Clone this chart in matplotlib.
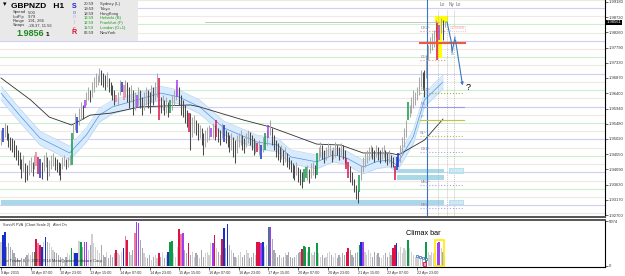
import numpy as np
import matplotlib
matplotlib.use('Agg')
import matplotlib.pyplot as plt
from matplotlib.patches import Rectangle

plt.rcParams['font.family'] = ['Liberation Sans', 'DejaVu Sans']

# ---- data (GBPNZD H1, one entry per hourly bar) ----
highs = [
    1.9529, 1.9535, 1.9550, 1.9544, 1.9520, 1.9508, 1.9504, 1.9498, 1.9483, 1.9468,
    1.9462, 1.9440, 1.9453, 1.9430, 1.9422, 1.9438, 1.9447, 1.9432, 1.9453, 1.9462,
    1.9447, 1.9440, 1.9432, 1.9453, 1.9462, 1.9447, 1.9438, 1.9453, 1.9459, 1.9447,
    1.9440, 1.9432, 1.9428, 1.9447, 1.9453, 1.9440, 1.9447, 1.9453, 1.9520, 1.9550,
    1.9580, 1.9568, 1.9596, 1.9614, 1.9605, 1.9620, 1.9644, 1.9660, 1.9650, 1.9675,
    1.9690, 1.9702, 1.9696, 1.9717, 1.9711, 1.9702, 1.9696, 1.9705, 1.9687, 1.9675,
    1.9666, 1.9650, 1.9635, 1.9644, 1.9681, 1.9675, 1.9666, 1.9681, 1.9675, 1.9660,
    1.9666, 1.9650, 1.9644, 1.9635, 1.9660, 1.9650, 1.9629, 1.9644, 1.9660, 1.9650,
    1.9644, 1.9666, 1.9660, 1.9675, 1.9702, 1.9687, 1.9629, 1.9635, 1.9620, 1.9629,
    1.9614, 1.9620, 1.9635, 1.9650, 1.9666, 1.9681, 1.9660, 1.9635, 1.9620, 1.9605,
    1.9590, 1.9580, 1.9580, 1.9568, 1.9574, 1.9559, 1.9550, 1.9544, 1.9535, 1.9520,
    1.9529, 1.9538, 1.9544, 1.9535, 1.9550, 1.9544, 1.9559, 1.9535, 1.9529, 1.9550,
    1.9544, 1.9529, 1.9523, 1.9514, 1.9520, 1.9508, 1.9498, 1.9514, 1.9520, 1.9529,
    1.9514, 1.9504, 1.9520, 1.9529, 1.9523, 1.9514, 1.9504, 1.9498, 1.9489, 1.9498,
    1.9483, 1.9508, 1.9520, 1.9529, 1.9544, 1.9559, 1.9535, 1.9514, 1.9498, 1.9489,
    1.9477, 1.9483, 1.9468, 1.9477, 1.9459, 1.9447, 1.9438, 1.9428, 1.9422, 1.9432,
    1.9416, 1.9410, 1.9401, 1.9410, 1.9416, 1.9422, 1.9410, 1.9428, 1.9432, 1.9422,
    1.9459, 1.9477, 1.9492, 1.9483, 1.9468, 1.9477, 1.9489, 1.9483, 1.9468, 1.9477,
    1.9492, 1.9483, 1.9477, 1.9489, 1.9483, 1.9468, 1.9445, 1.9432, 1.9420, 1.9401,
    1.9380, 1.9362, 1.9346, 1.9392, 1.9422, 1.9447, 1.9459, 1.9468, 1.9477, 1.9483,
    1.9477, 1.9468, 1.9483, 1.9477, 1.9468, 1.9477, 1.9483, 1.9468, 1.9459, 1.9468,
    1.9453, 1.9447, 1.9420, 1.9447, 1.9459, 1.9483, 1.9508, 1.9535, 1.9559, 1.9614,
    1.9605, 1.9629, 1.9650, 1.9644, 1.9660, 1.9690, 1.9711, 1.9705, 1.9711, 1.9757,
    1.9787, 1.9812, 1.9824, 1.9833, 1.9863, 1.9854, 1.9848, 1.9869, 1.9863, 1.9860,
]
lows = [
    1.9483, 1.9492, 1.9508, 1.9498, 1.9477, 1.9468, 1.9462, 1.9447, 1.9438, 1.9422,
    1.9410, 1.9383, 1.9400, 1.9371, 1.9377, 1.9392, 1.9401, 1.9390, 1.9410, 1.9420,
    1.9395, 1.9383, 1.9380, 1.9405, 1.9416, 1.9377, 1.9390, 1.9410, 1.9420, 1.9407,
    1.9401, 1.9392, 1.9377, 1.9410, 1.9420, 1.9410, 1.9416, 1.9422, 1.9422, 1.9500,
    1.9530, 1.9520, 1.9544, 1.9559, 1.9562, 1.9596, 1.9605, 1.9620, 1.9614, 1.9629,
    1.9644, 1.9660, 1.9666, 1.9675, 1.9666, 1.9660, 1.9650, 1.9660, 1.9644, 1.9635,
    1.9620, 1.9605, 1.9614, 1.9605, 1.9635, 1.9644, 1.9620, 1.9629, 1.9614, 1.9596,
    1.9614, 1.9574, 1.9590, 1.9596, 1.9605, 1.9596, 1.9574, 1.9590, 1.9605, 1.9596,
    1.9580, 1.9614, 1.9605, 1.9620, 1.9629, 1.9559, 1.9580, 1.9590, 1.9574, 1.9580,
    1.9568, 1.9580, 1.9590, 1.9605, 1.9620, 1.9629, 1.9605, 1.9574, 1.9568, 1.9550,
    1.9538, 1.9523, 1.9468, 1.9508, 1.9520, 1.9514, 1.9498, 1.9504, 1.9483, 1.9453,
    1.9477, 1.9492, 1.9498, 1.9508, 1.9504, 1.9498, 1.9508, 1.9492, 1.9483, 1.9504,
    1.9492, 1.9489, 1.9477, 1.9462, 1.9468, 1.9447, 1.9428, 1.9459, 1.9477, 1.9483,
    1.9468, 1.9459, 1.9477, 1.9489, 1.9483, 1.9468, 1.9453, 1.9459, 1.9462, 1.9453,
    1.9440, 1.9462, 1.9468, 1.9483, 1.9504, 1.9514, 1.9483, 1.9468, 1.9447, 1.9438,
    1.9432, 1.9440, 1.9422, 1.9432, 1.9416, 1.9410, 1.9401, 1.9383, 1.9377, 1.9392,
    1.9371, 1.9362, 1.9352, 1.9371, 1.9383, 1.9377, 1.9368, 1.9383, 1.9392, 1.9383,
    1.9392, 1.9438, 1.9447, 1.9440, 1.9428, 1.9438, 1.9447, 1.9453, 1.9432, 1.9440,
    1.9447, 1.9453, 1.9438, 1.9447, 1.9440, 1.9428, 1.9410, 1.9383, 1.9371, 1.9362,
    1.9340, 1.9320, 1.9307, 1.9340, 1.9377, 1.9401, 1.9416, 1.9428, 1.9438, 1.9447,
    1.9440, 1.9432, 1.9447, 1.9438, 1.9428, 1.9440, 1.9447, 1.9432, 1.9422, 1.9428,
    1.9416, 1.9416, 1.9377, 1.9407, 1.9416, 1.9432, 1.9453, 1.9477, 1.9508, 1.9559,
    1.9568, 1.9580, 1.9596, 1.9605, 1.9620, 1.9635, 1.9660, 1.9650, 1.9629, 1.9687,
    1.9742, 1.9763, 1.9772, 1.9781, 1.9812, 1.9742, 1.9802, 1.9824, 1.9802, 1.9842,
]
volumes = [
    3200, 4100, 4560, 2500, 3000, 2570, 2130, 1680, 1240, 1000,
    800, 1100, 900, 1240, 1460, 1680, 1500, 1900, 1900, 3540,
    3000, 2790, 2570, 3230, 3800, 3230, 3000, 2570, 2130, 1900,
    1680, 1460, 1240, 1000, 800, 1240, 1680, 1460, 2350, 1900,
    1680, 1700, 3300, 3230, 2500, 3140, 3140, 2130, 2800, 4250,
    3000, 2570, 2130, 1680, 2800, 1460, 1240, 1900, 1000, 1460,
    1240, 1680, 2130, 1680, 1460, 1900, 2350, 3990, 3450, 1900,
    1460, 2130, 4340, 5900, 5760, 3450, 2350, 1680, 1240, 1000,
    1460, 800, 1240, 1460, 1000, 1680, 1240, 1900, 1000, 1460,
    1900, 3230, 3300, 1680, 1240, 2570, 4870, 4250, 4420, 2130,
    1680, 3100, 1460, 1900, 1240, 1680, 1460, 1000, 2130, 1240,
    1680, 1900, 1460, 3000, 3000, 4120, 2350, 1900, 1460, 3540,
    5000, 2350, 5540, 2800, 2130, 1680, 1240, 1000, 1460, 1900,
    1240, 1460, 2130, 1680, 1000, 1240, 1680, 1460, 3230, 3230,
    3000, 3230, 2570, 2800, 5230, 5230, 3540, 2130, 1680, 1240,
    1460, 1000, 1240, 1680, 1460, 1900, 1240, 1000, 1240, 1460,
    1680, 1900, 2200, 2650, 2570, 1900, 2480, 1680, 1460, 1900,
    3000, 1680, 1240, 1460, 1000, 1240, 1680, 1900, 1460, 1240,
    1680, 1000, 1460, 1240, 1680, 1460, 1900, 2350, 2130, 1460,
    1240, 1680, 1900, 2790, 3230, 3140, 1900, 1460, 2130, 1680,
    1240, 1900, 1460, 1680, 1240, 1000, 1460, 1680, 1240, 1900,
    1460, 2350, 2800, 3000, 1900, 2570, 1680, 2350, 2130, 3450,
    2350, 1900, 1460, 1240, 1000, 1240, 1000, 800, 500, 3230,
    1900, 1460, 1900, 1680, 2130, 3000, 3200, 2350, 1900, 1000,
]
# VSA bar types on the volume panel (b=blue, g=green, r=red, k=pink, p=purple)
vol_types = {1: 'b', 2: 'b', 18: 'g', 19: 'r', 20: 'k', 21: 'r', 22: 'b', 24: 'b',
             38: 'g', 40: 'b', 41: 'b', 43: 'g', 45: 'p', 46: 'p', 62: 'r', 66: 'b',
             67: 'k', 68: 'r', 72: 'k', 73: 'p', 74: 'p', 85: 'r', 90: 'b', 91: 'g',
             92: 'g', 96: 'r', 97: 'k', 98: 'p', 101: 'r', 114: 'p', 115: 'r', 119: 'r',
             120: 'b', 122: 'b', 138: 'r', 139: 'r', 140: 'p', 141: 'b', 144: 'g',
             145: 'p', 162: 'r', 163: 'g', 164: 'g', 166: 'g', 170: 'g', 186: 'r',
             187: 'r', 193: 'g', 194: 'b', 195: 'p', 211: 'r', 212: 'r', 213: 'b',
             219: 'g', 229: 'g', 235: 'p', 236: 'p'}
# coloured bars on the price chart
price_types = {1: 'b', 19: 'k', 20: 'r', 21: 'b', 38: 'g', 41: 'b', 45: 'p', 62: 'k',
               65: 'b', 66: 'k', 73: 'p', 85: 'r', 91: 'g', 95: 'p', 101: 'r', 113: 'p',
               116: 'r', 120: 'b', 138: 'r', 140: 'b', 142: 'g', 144: 'p', 163: 'g',
               164: 'g', 170: 'g', 186: 'r', 187: 'r', 193: 'g', 212: 'r', 213: 'b',
               214: 'b', 219: 'g', 235: 'r', 236: 'p'}

# moving average (dark line) and blue channel, read at a few bars
ma_bars = [0, 16, 26, 38, 48, 59, 75, 102, 107, 130, 145, 170, 183, 195, 209, 214, 228, 238]
ma_vals = [1.9687, 1.9620, 1.9568, 1.9544, 1.9574, 1.9580, 1.9599, 1.9605, 1.9599,
           1.9560, 1.9538, 1.9486, 1.9483, 1.9459, 1.9459, 1.9453, 1.9498, 1.9562]
band_bars = [0, 10, 21, 37, 46, 53, 60, 75, 86, 96, 107, 120, 138, 149, 156, 170,
             179, 186, 195, 202, 209, 213, 222, 228, 238]
band_mid = [1.9641, 1.9574, 1.9504, 1.9459, 1.9514, 1.9574, 1.9599, 1.9623, 1.9641,
            1.9629, 1.9599, 1.9535, 1.9492, 1.9483, 1.9447, 1.9432, 1.9453, 1.9444,
            1.9416, 1.9432, 1.9438, 1.9422, 1.9508, 1.9620, 1.9675]

price_ticks = [1.99180, 1.98720, 1.98260, 1.97790, 1.97330, 1.96870, 1.96400, 1.95940,
               1.95480, 1.95020, 1.94550, 1.94090, 1.93630, 1.93170, 1.92700]
last_price = 1.98561
vol_max = 5974
time_labels = ['9 Apr 2015', '10 Apr 07:00', '10 Apr 23:00', '13 Apr 15:00', '14 Apr 07:00',
               '14 Apr 23:00', '15 Apr 15:00', '16 Apr 07:00', '16 Apr 23:00', '17 Apr 15:00',
               '20 Apr 07:00', '20 Apr 23:00', '21 Apr 15:00', '22 Apr 07:00', '22 Apr 23:00']

pivot_names = ['DR2^', 'D1^', 'DR1^', 'R1', 'P', 'S1^', 'DS1^', 'MS2^', 'MXL']
pivot_prices = [1.9830, 1.9742, 1.9641, 1.9599, 1.9559, 1.9511, 1.9462, 1.9362, 1.9292]
res_level = 1.9793
zone_lo = [1.9302, 1.9398, 1.9377]
zone_hi = [1.9316, 1.9410, 1.9392]
zone_start = [0, 212, 213]
proj_bars = [240.2, 242.3, 242.9, 244.5, 248.8]
proj_vals = [1.9857, 1.9802, 1.9766, 1.9811, 1.9656]
session_bars = [235.3, 240.2, 243.9]
session_names = ['Lo', 'Ny', 'Lo']
sessions = [('20:59', 'Sydney (L)'), ('19:59', 'Tokyo'), ('18:59', 'HongKong'),
            ('13:59', 'Helsinki (B)'), ('12:59', 'Frankfurt (F)'),
            ('11:59', 'London (O+1)'), ('06:59', 'NewYork')]
stats = [('Spread', '5.00'), ('LotPip', '9.79'), ('Range', '191, 266'), ('Swaps', '-28.37, 11.56')]

# ---- layout ----
W, H = 625, 276
BAR_PX = 1.857
fig = plt.figure(figsize=(W / 100, H / 100), dpi=100)

def fx(x):
    return x / W

def fy(y):
    return 1 - y / H

def bar_at(x):
    return (x - 1) / BAR_PX

palette = {'b': '#1a2fc8', 'g': '#0f9a48', 'r': '#dc1446', 'k': '#f07aa0', 'p': '#a33cf0'}
n = len(highs)
idx = np.arange(n)
mids = (np.array(highs) + np.array(lows)) / 2
falling = [i > 0 and mids[i] < mids[i - 1] for i in range(n)]
colors = [palette[price_types[i]] if i in price_types else ('#4a4a4a' if falling[i] else '#a9a9a9')
          for i in range(n)]
vcolors = [palette[vol_types[i]] if i in vol_types else ('#a8a8b2' if falling[i] else '#d0d0d0')
           for i in range(n)]

ppx = 0.000304
p_top = 1.9924
p_bot = p_top - 217 * ppx

ax = fig.add_axes([0, fy(217), fx(605), 217 / H])
ax.set_xlim(bar_at(0), bar_at(605))
ax.set_ylim(p_bot, p_top)

# round-number level lines
for lvl in np.arange(1.9275, 1.9926, 0.0025):
    k = int(round(lvl * 10000)) % 100
    c = '#cfcff3' if k == 0 else ('#cdeecd' if k == 50 else '#eeeadf')
    ax.axhline(lvl, color=c, lw=0.8, zorder=0)

for lo, hi, s in zip(zone_lo, zone_hi, zone_start):
    ax.add_patch(Rectangle((s, lo), 238.5 - s, hi - lo, facecolor='#a9d9e8',
                           edgecolor='none', zorder=1))
for lo, txt in zip([zone_lo[0], zone_lo[1]], ['1.93100', '1.94040']):
    ax.text(241.5, lo + 0.0006, txt, fontsize=2.8, color='white', va='center',
            bbox=dict(boxstyle='square,pad=0.2', fc='#b9e0ee', ec='none'), zorder=3)

# blue channel and moving average
bm = np.array(band_mid)
ax.fill_between(band_bars, bm - 0.0021, bm + 0.0021, color='#d8eafb', lw=0, zorder=1)
ax.plot(band_bars, bm - 0.0021, color='#b8d7f3', lw=0.5, zorder=1)
ax.plot(band_bars, bm + 0.0021, color='#b8d7f3', lw=0.5, zorder=1)
ax.plot(band_bars, bm, color='#4a96e6', lw=0.5, zorder=2)
ax.plot(ma_bars, ma_vals, color='#303030', lw=0.6, zorder=2)

# highlights at the last bars
ax.add_patch(Rectangle((233.7, 1.9854), 7.0, 0.0021, facecolor='#ffff00', edgecolor='none', zorder=1))
ax.add_patch(Rectangle((234.8, 1.9748), 2.7, 0.0115, facecolor='#ffff00', edgecolor='none', zorder=1))

# price bars
lw = [1.1 if i in price_types else 0.75 for i in range(n)]
ax.vlines(idx, lows, highs, colors=colors, linewidths=lw, zorder=3)

# current price line
ax.plot([110, 236], [last_price, last_price], color='#b0b0b0', lw=0.5, zorder=2)

# session / marker lines
ax.axvline(229.4, color='#3a74c4', lw=0.8, zorder=2)
for b, nm in zip(session_bars, session_names):
    ax.plot([b, b], [p_bot, p_top - 0.0030], color='#b0b0b0', lw=0.5, ls=(0, (1.5, 1.5)), zorder=2)
    ax.text(b + 0.8, p_top - 0.0015, nm, fontsize=3.4, color='#707070', va='center')

# pivot levels
pstyle = {'DR2^': ('#e59a8a', ':'), 'D1^': ('#e59a8a', ':'), 'DR1^': ('#9fb43c', ':'),
          'R1': ('#9a9ae8', '-'), 'P': ('#c4c048', '-'), 'S1^': ('#b6bf48', ':'),
          'DS1^': ('#a8a8e8', ':'), 'MS2^': ('#a8a8e8', ':'), 'MXL': ('#a8a8e8', ':')}
for nm, pr in zip(pivot_names, pivot_prices):
    c, ls = pstyle[nm]
    end = 239 if nm in ('DR2^', 'D1^') else 249.5
    ax.plot([225.6, end], [pr, pr], color=c, ls=ls, lw=0.8, zorder=2)
    ax.text(225.8, pr + 0.0003, nm, fontsize=2.8, color='#8a7fa6', va='bottom', zorder=4)
ax.plot([225.6, 249.9], [res_level, res_level], color='#f05a3c', lw=1.5, zorder=4)
ax.text(242, pivot_prices[0] + 0.0008, '1.98300', fontsize=2.8, color='#e8a0b0', va='center',
        bbox=dict(boxstyle='square,pad=0.2', fc='white', ec='#e8a0b0', ls=':', lw=0.5), zorder=4)

# projection zigzag
ax.plot(proj_bars[:-1], proj_vals[:-1], color='#3a78c0', lw=0.8, zorder=4)
ax.annotate('', xy=(proj_bars[-1], proj_vals[-1]), xytext=(proj_bars[-2], proj_vals[-2]),
            arrowprops=dict(arrowstyle='-|>', color='#3a78c0', lw=0.8, mutation_scale=4),
            zorder=4)
ax.text(proj_bars[2], proj_vals[2], 'S', fontsize=3, color='#3a78c0', ha='center', va='top')
ax.text(proj_bars[-1] + 1.5, proj_vals[-1] + 0.0002, '?', fontsize=6.5, color='black', va='center')

for s in ['top', 'left']:
    ax.spines[s].set_visible(False)
ax.spines['right'].set_linewidth(0.8)
ax.spines['bottom'].set_color('#555555')
ax.spines['bottom'].set_linewidth(1.4)
ax.set_xticks([])
ax.yaxis.tick_right()
ax.set_yticks(price_ticks)
ax.set_yticklabels([f'{t:.5f}' for t in price_ticks])
ax.tick_params(axis='y', length=2, width=0.5, labelsize=3, pad=1, colors='#333333')
ax.text(1.003, last_price, f'{last_price:.5f}', transform=ax.get_yaxis_transform(),
        fontsize=3, color='white', va='center', ha='left',
        bbox=dict(boxstyle='square,pad=0.15', fc='black', ec='none'), clip_on=False)

# ---- volume panel ----
vax = fig.add_axes([0, fy(267), fx(605), 47 / H])
vax.set_xlim(bar_at(0), bar_at(605))
vax.set_ylim(-133, 6107)
vw = [0.9 if i in vol_types else 0.6 for i in range(n)]
vax.bar(idx, volumes, width=vw, color=vcolors, edgecolor='none', zorder=2)
vax.bar([228], [volumes[228]], width=1.3, color='#f4a0b4', edgecolor='#dc1446', lw=0.6, zorder=3)
vax.plot([224, 225.6, 227.2, 228.8], [1330, 1200, 1060, 930], color='#3060b0', lw=0.5,
         ls=':', marker='s', ms=1.6, mfc='white', mec='#3060b0', mew=0.5, zorder=4)
vax.add_patch(Rectangle((233.7, 0), 4.7, 3450, facecolor='none', edgecolor='#ffee00', lw=1.2, zorder=4))
vax.text(bar_at(406), 4300, 'Climax bar', fontsize=5.2, color='black', va='center')
vax.text(0.005, 0.93, 'SonicR PVA  (Chart Scale 2)   Alert On', transform=vax.transAxes,
         fontsize=2.7, color='#333333', va='top')
vax.text(0.005, 0.12, 'Go Trader 4, \u00a9 2001-2014 MetaQuotes Software Corp.', transform=vax.transAxes,
         fontsize=3, color='#333333', va='center', zorder=5)
vax.spines['left'].set_visible(False)
vax.spines['top'].set_color('#555555')
vax.spines['top'].set_linewidth(1.4)
vax.spines['right'].set_linewidth(0.8)
vax.spines['bottom'].set_linewidth(0.8)
vax.yaxis.tick_right()
vax.set_yticks([0, vol_max])
vax.set_yticklabels(['0', str(vol_max)])
vax.tick_params(axis='y', length=2, width=0.5, labelsize=3, pad=1, colors='#333333')
vax.set_xticks(np.arange(0, 16 * len(time_labels), 16))
vax.set_xticklabels(time_labels, ha='left')
vax.tick_params(axis='x', length=2, width=0.5, labelsize=2.7, pad=1, colors='#333333')

# ---- info panel ----
fig.patches.append(Rectangle((0, fy(41)), fx(138), 41 / H, transform=fig.transFigure,
                             facecolor='#e9e9e9', edgecolor='none', zorder=5))
fig.text(fx(3), fy(5), '\u25be', fontsize=5, color='black', va='center', zorder=6)
fig.text(fx(11), fy(6), 'GBPNZD   H1', fontsize=6, fontweight='bold', color='black', va='center', zorder=6)
for k, (lab, val) in enumerate(stats):
    fig.text(fx(13), fy(12.5 + 4.2 * k), lab, fontsize=3, color='#333333', va='center', zorder=6)
    fig.text(fx(28), fy(12.5 + 4.2 * k), val, fontsize=3, color='#333333', va='center', zorder=6)
fig.text(fx(16), fy(33), '1.9856', fontsize=6.5, fontweight='bold', color='#1e8a1e', va='center', zorder=6)
fig.text(fx(46), fy(34), '1', fontsize=4.5, fontweight='bold', color='black', va='center', zorder=6)
for y, ch, c, fw in [(6, 'S', '#2020d0', 'bold'), (12, 'o', '#6060e0', 'normal'),
                     (17, 'o', '#b0b0f0', 'normal'), (22, 'I', '#f0a0c0', 'normal'),
                     (28, 'c', '#e03050', 'normal'), (33, 'R', '#e01030', 'bold')]:
    fig.text(fx(74), fy(y), ch, fontsize=5 if fw == 'bold' else 4, fontweight=fw, color=c,
             ha='center', va='center', zorder=6)
for k, (t, city) in enumerate(sessions):
    c = '#1e9a1e' if 3 <= k <= 5 else '#333333'
    fig.text(fx(84), fy(4 + 4.8 * k), t, fontsize=3, color=c, va='center', zorder=6)
    fig.text(fx(100), fy(4 + 4.8 * k), city, fontsize=3, color=c, va='center', zorder=6)

fig.savefig('out.png', dpi=100)
